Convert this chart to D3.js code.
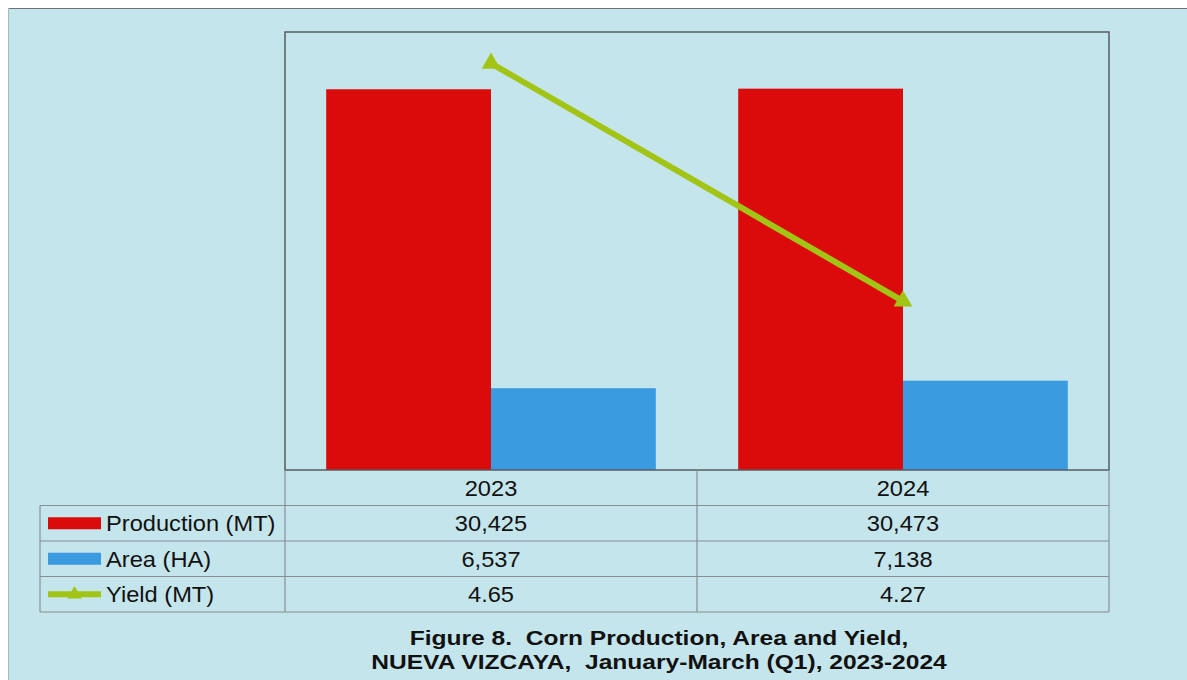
<!DOCTYPE html>
<html>
<head>
<meta charset="utf-8">
<script src="https://cdn.jsdelivr.net/npm/d3@7"></script>
<style>
  html, body { margin: 0; padding: 0; background: #ffffff; }
  svg { display: block; }
  text { font-family: "Liberation Sans", Arial, sans-serif; fill: #111; white-space: pre; }
</style>
</head>
<body>
<svg id="chart" width="1187" height="680"></svg>
<script>
// Corn production, area and yield by year
const years = ["2023", "2024"];
const production = [30425, 30473];
const area = [6537, 7138];
const yieldMT = [4.65, 4.27];
const seriesNames = ["Production (MT)", "Area (HA)", "Yield (MT)"];
const tableRows = [
  production.map(d => d3.format(",")(d)),
  area.map(d => d3.format(",")(d)),
  yieldMT.map(d => d3.format(".2f")(d))
];
const titleLines = [
  "Figure 8.  Corn Production, Area and Yield,",
  "NUEVA VIZCAYA,  January-March (Q1), 2023-2024"
];

const colors = { prod: "#dc0b0b", area: "#3a9be0", yld: "#a2c414", bg: "#c4e5eb" };

const svg = d3.select("#chart");

// page panel
svg.append("rect").attr("x", 8).attr("y", 8).attr("width", 1179).attr("height", 672)
  .attr("fill", colors.bg);
svg.append("line").attr("x1", 8).attr("x2", 1187).attr("y1", 8.5).attr("y2", 8.5)
  .attr("stroke", "#6c7478").attr("stroke-width", 1.2);
svg.append("line").attr("x1", 8.5).attr("x2", 8.5).attr("y1", 8).attr("y2", 680)
  .attr("stroke", "#a9b8bd").attr("stroke-width", 1);

// plot geometry
const plot = { left: 285, right: 1109, top: 32, bottom: 470 };
const tableLeft = 40;
const rowH = 35.5;

const x = d3.scaleBand().domain(years).range([plot.left, plot.right])
  .paddingInner(0.2).paddingOuter(0.1);
const step = x.step();
const xs = d3.scaleBand().domain(["prod", "area"]).range([0, x.bandwidth()]);
const yL = d3.scaleLinear().domain([0, 35000]).range([plot.bottom, plot.top]);
const yR = d3.scaleLinear().domain([4.0, 4.7]).range([plot.bottom, plot.top]);

// horizontal stretch used for labels
function stretch(sel, k = 1.1) {
  sel.attr("transform", function () {
    const xx = +d3.select(this).attr("x");
    return `translate(${xx},0) scale(${k},1) translate(${-xx},0)`;
  });
}

// bars
const groups = svg.append("g").selectAll("g").data(years).join("g")
  .attr("transform", d => `translate(${x(d)},0)`);
groups.append("rect")
  .attr("x", xs("prod")).attr("width", xs.bandwidth())
  .attr("y", (d, i) => yL(production[i]))
  .attr("height", (d, i) => plot.bottom - yL(production[i]))
  .attr("fill", colors.prod);
groups.append("rect")
  .attr("x", xs("area")).attr("width", xs.bandwidth())
  .attr("y", (d, i) => yL(area[i]))
  .attr("height", (d, i) => plot.bottom - yL(area[i]))
  .attr("fill", colors.area);

// yield line on secondary scale
const cx = d => x(d) + x.bandwidth() / 2;
const line = d3.line().x((d, i) => cx(years[i])).y(d => yR(d));
svg.append("path").datum(yieldMT).attr("d", line)
  .attr("fill", "none").attr("stroke", colors.yld).attr("stroke-width", 6);
svg.append("g").selectAll("path").data(yieldMT).join("path")
  .attr("d", d3.symbol(d3.symbolTriangle, 150))
  .attr("transform", (d, i) => `translate(${cx(years[i])},${yR(d)})`)
  .attr("fill", colors.yld);

// plot frame
svg.append("rect").attr("x", plot.left).attr("y", plot.top)
  .attr("width", plot.right - plot.left).attr("height", plot.bottom - plot.top)
  .attr("fill", "none").attr("stroke", "#555d63").attr("stroke-width", 1.5);

// data table
const grid = svg.append("g").attr("stroke", "#858f94").attr("stroke-width", 1.2).attr("fill", "none");
const tTop = plot.bottom;
const tBottom = tTop + rowH * 4;
const midDivider = plot.left + step;
grid.append("line").attr("x1", plot.left).attr("x2", plot.left).attr("y1", tTop).attr("y2", tBottom);
grid.append("line").attr("x1", plot.right).attr("x2", plot.right).attr("y1", tTop).attr("y2", tBottom);
grid.append("line").attr("x1", midDivider).attr("x2", midDivider).attr("y1", tTop).attr("y2", tBottom);
for (let r = 1; r <= 4; r++) {
  const yy = tTop + rowH * r;
  grid.append("line").attr("x1", tableLeft).attr("x2", plot.right).attr("y1", yy).attr("y2", yy);
}
grid.append("line").attr("x1", tableLeft).attr("x2", tableLeft).attr("y1", tTop + rowH).attr("y2", tBottom);

const cellCx = y => x(y) + x.bandwidth() / 2;
svg.append("g").selectAll("text").data(years).join("text")
  .attr("x", d => cellCx(d)).attr("y", tTop + rowH / 2 + 1)
  .attr("text-anchor", "middle").attr("dominant-baseline", "central")
  .attr("font-size", 21.5).text(d => d).call(stretch);

tableRows.forEach((row, r) => {
  const yc = tTop + rowH * (r + 1.5) + 1;
  svg.append("g").selectAll("text").data(row).join("text")
    .attr("x", (d, i) => cellCx(years[i])).attr("y", yc)
    .attr("text-anchor", "middle").attr("dominant-baseline", "central")
    .attr("font-size", 21.5).text(d => d).call(stretch);
  svg.append("text").attr("x", 106).attr("y", yc)
    .attr("dominant-baseline", "central").attr("font-size", 21.5)
    .text(seriesNames[r]).call(stretch);
});

// legend keys
const keyX0 = 48, keyX1 = 101;
const rowMid = r => tTop + rowH * (r + 1.5);
svg.append("rect").attr("x", keyX0).attr("y", rowMid(0) - 6).attr("width", keyX1 - keyX0).attr("height", 12)
  .attr("fill", colors.prod);
svg.append("rect").attr("x", keyX0).attr("y", rowMid(1) - 6).attr("width", keyX1 - keyX0).attr("height", 12)
  .attr("fill", colors.area);
svg.append("line").attr("x1", keyX0).attr("x2", keyX1).attr("y1", rowMid(2)).attr("y2", rowMid(2))
  .attr("stroke", colors.yld).attr("stroke-width", 6);
svg.append("path").attr("d", d3.symbol(d3.symbolTriangle, 90))
  .attr("transform", `translate(${(keyX0 + keyX1) / 2},${rowMid(2)})`).attr("fill", colors.yld);

// caption
svg.append("g").selectAll("text").data(titleLines).join("text")
  .attr("x", 659).attr("y", (d, i) => 645 + i * 24)
  .attr("text-anchor", "middle").attr("font-size", 21).attr("font-weight", "bold")
  .text(d => d).call(stretch, 1.17);
</script>
</body>
</html>
